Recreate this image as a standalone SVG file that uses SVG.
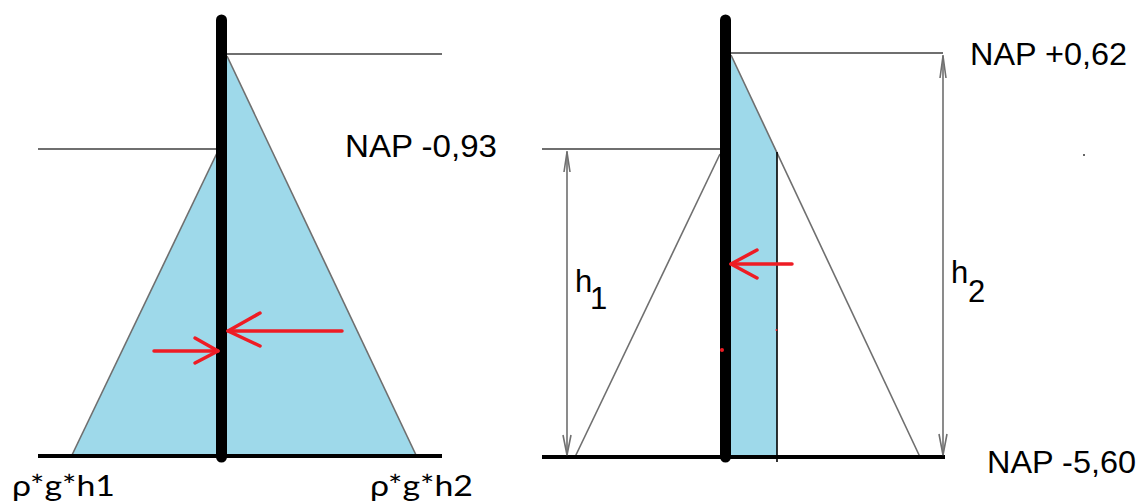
<svg xmlns="http://www.w3.org/2000/svg" width="1145" height="504" viewBox="0 0 1145 504">
<style>
.fill{fill:#9ed9ea;stroke:none}
.edge{stroke:#6f6f6f;stroke-width:1.6;fill:none}
.lvl{stroke:#6f6f6f;stroke-width:2;fill:none}
.base{stroke:#000;stroke-width:4;fill:none}
.wall{stroke:#000;stroke-width:11;stroke-linecap:round;fill:none}
.red{stroke:#ee1c24;stroke-width:3.5;fill:none;stroke-linecap:round;stroke-linejoin:round}
.dim{stroke:#6f6f6f;stroke-width:1.6;fill:none}
.t{font-family:"Liberation Sans",Arial,sans-serif;font-size:31px;fill:#000}
.c{font-family:Lato,"Open Sans",sans-serif;font-size:28px;fill:#000}
</style>
<g id="left-diagram">
  <polygon class="fill" points="217,153 72,455 217,455"/>
  <polygon class="fill" points="227,56 416,455 227,455"/>
  <line class="edge" x1="217" y1="153" x2="72" y2="455"/>
  <line class="edge" x1="227" y1="56" x2="416" y2="455"/>
  <line class="lvl" x1="38" y1="149" x2="217" y2="149"/>
  <line class="lvl" x1="227" y1="54" x2="442" y2="54"/>
  <line class="base" x1="38" y1="456" x2="442" y2="456"/>
  <line class="wall" x1="221.5" y1="20" x2="221.5" y2="457"/>
  <g id="left-forces">
    <polyline class="red" points="154,351 218,351"/>
    <polyline class="red" points="195,338 218,351 195,363"/>
    <polyline class="red" points="342,331 228,331"/>
    <polyline class="red" points="260,313 228,331 260,346"/>
  </g>
  <text class="t" x="345" y="157" textLength="152" lengthAdjust="spacingAndGlyphs">NAP -0,93</text>
  <text class="c" x="12" y="496" textLength="103" lengthAdjust="spacingAndGlyphs">ρ*g*h1</text>
  <text class="c" x="370" y="496" textLength="103" lengthAdjust="spacingAndGlyphs">ρ*g*h2</text>
</g>
<g id="right-diagram">
  <polygon class="fill" points="731,55 777,152 777,457 731,457"/>
  <line class="edge" x1="731" y1="55" x2="920" y2="457"/>
  <line class="edge" x1="720" y1="154" x2="575" y2="457"/>
  <line stroke="#000" stroke-width="1.6" x1="777" y1="152" x2="777" y2="462"/>
  <line class="lvl" x1="542" y1="149" x2="720" y2="149"/>
  <line class="lvl" x1="731" y1="53" x2="943" y2="53"/>
  <line class="base" x1="542" y1="457" x2="945" y2="457"/>
  <line class="wall" x1="725.5" y1="20" x2="725.5" y2="457"/>
  <g id="connectors">
    <line class="dim" x1="567" y1="151" x2="567" y2="455"/>
    <polyline class="dim" points="564,172 567,152 570,172"/>
    <polyline class="dim" points="563,435 567,455 571,435"/>
    <line class="dim" x1="943" y1="55" x2="943" y2="455"/>
    <polyline class="dim" points="940,78 943,56 946,78"/>
    <polyline class="dim" points="939,434 943,455 947,434"/>
  </g>
  <g id="right-force">
    <polyline class="red" points="792,264 731,264"/>
    <polyline class="red" points="757,250 731,264 757,278"/>
  </g>
  <circle cx="722" cy="350" r="2" fill="#ee1c24"/>
  <circle cx="776.5" cy="330" r="1" fill="#ee1c24"/>
  <circle cx="1084" cy="155" r="1" fill="#333"/>
  <text class="t" x="970" y="65" textLength="157" lengthAdjust="spacingAndGlyphs">NAP +0,62</text>
  <text class="t" x="987" y="473" textLength="149" lengthAdjust="spacingAndGlyphs">NAP -5,60</text>
  <text class="t" font-size="28" x="575" y="292">h</text>
  <text class="t" font-size="28" x="590" y="309">1</text>
  <text class="t" font-size="28" x="951" y="283">h</text>
  <text class="t" font-size="28" x="968" y="302">2</text>
</g>
</svg>
